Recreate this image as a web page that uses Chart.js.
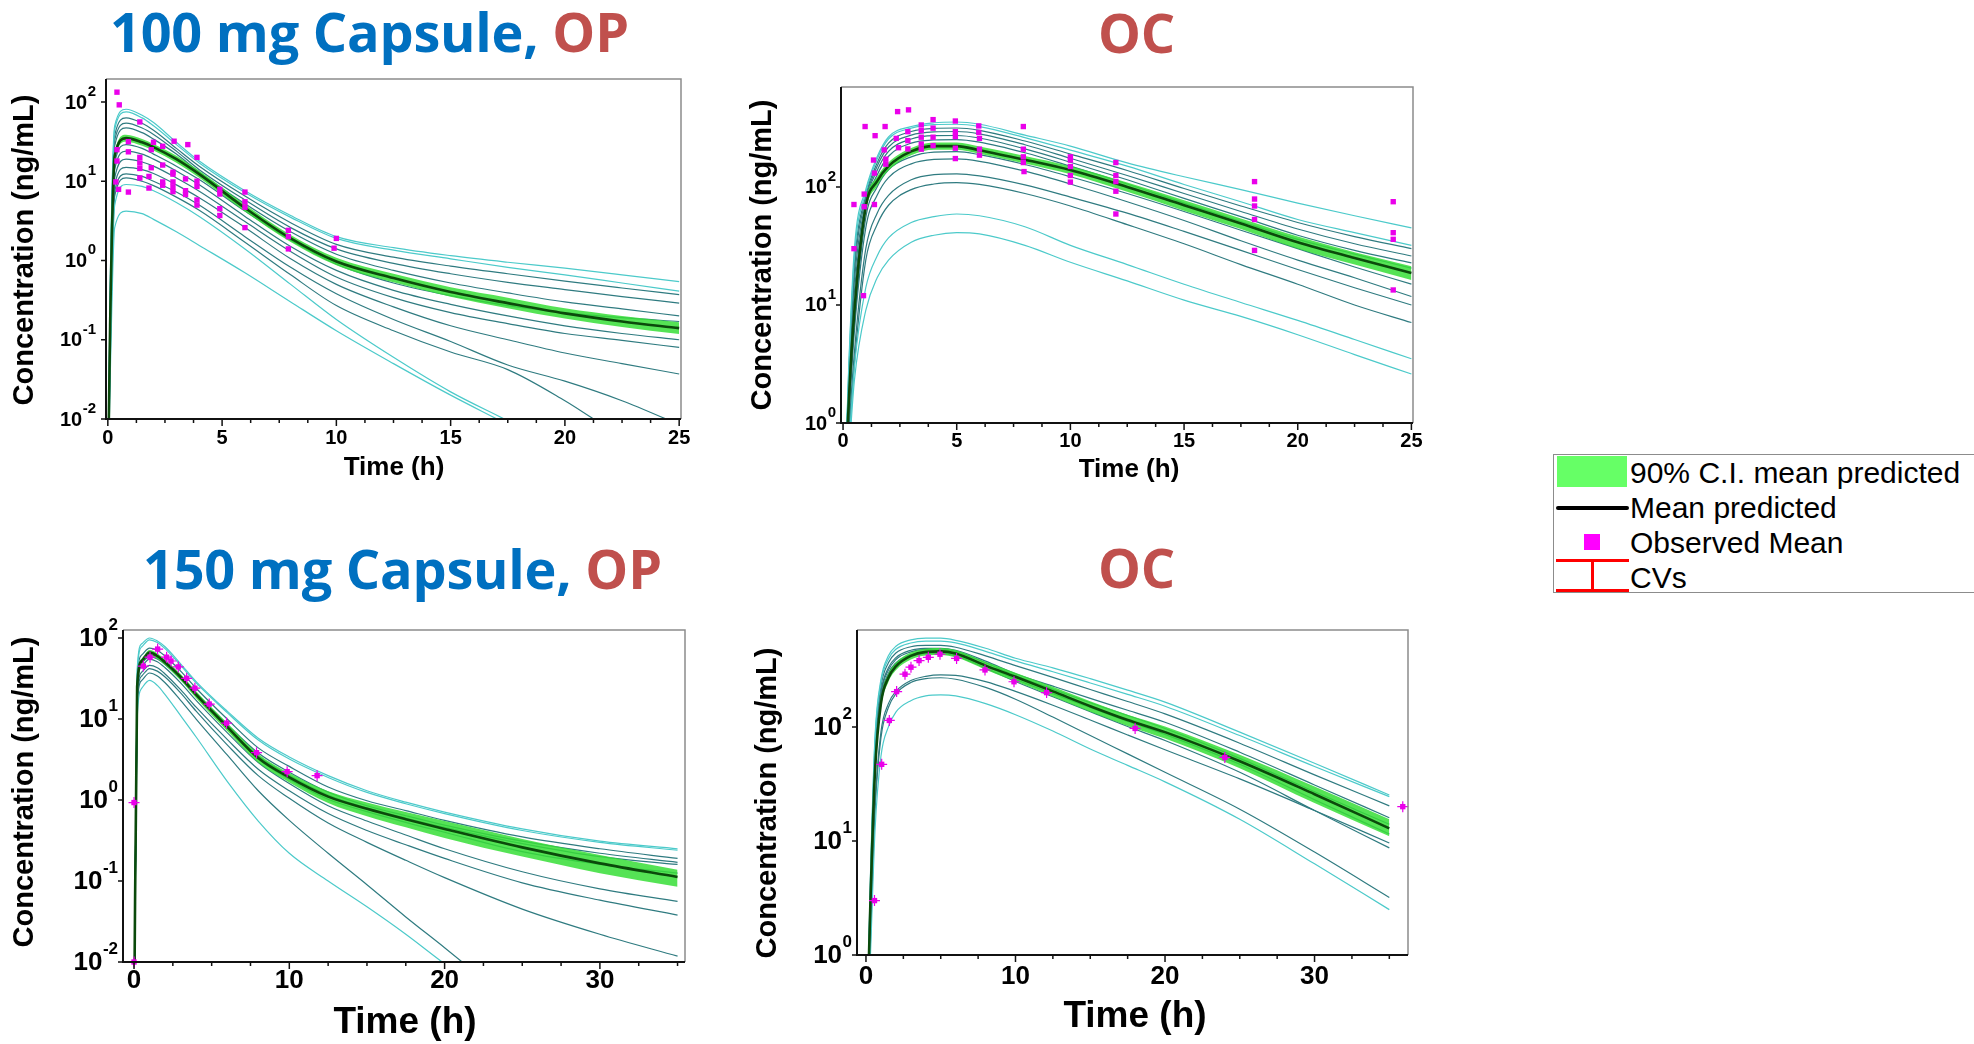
<!DOCTYPE html>
<html>
<head>
<meta charset="utf-8">
<title>Capsule PK profiles, OP vs OC</title>
<script src="https://cdn.jsdelivr.net/npm/chart.js@4.4.1/dist/chart.umd.min.js"></script>
<style>
  html, body { margin: 0; padding: 0; background: #fff; }
  body { position: relative; width: 1974px; height: 1044px; overflow: hidden; font-family: "Liberation Sans", Arial, sans-serif; }
  canvas { position: absolute; }
  .title { position: absolute; font-family: "Open Sans", sans-serif; font-weight: 700; font-size: 54px; line-height: 55px; letter-spacing: -0.2px; white-space: nowrap; color: #0070C0; }
  .title .red { color: #C0504D; }
  .legend { position: absolute; left: 1553px; top: 454px; width: 440px; height: 139px; border: 1.5px solid #8c8c8c; box-sizing: border-box; }
  .legend .txt { position: absolute; left: 76px; font-size: 30px; line-height: 30px; color: #000; white-space: nowrap; }
  .legend .sw { position: absolute; }
</style>
</head>
<body>
<div class="title" style="left:110px;top:4px">100 mg Capsule, <span class="red">OP</span></div>
<div class="title" style="left:1098px;top:5px"><span class="red">OC</span></div>
<div class="title" style="left:143px;top:541px">150 mg Capsule, <span class="red">OP</span></div>
<div class="title" style="left:1098px;top:540px"><span class="red">OC</span></div>

<canvas id="c1"></canvas>
<canvas id="c2"></canvas>
<canvas id="c3"></canvas>
<canvas id="c4"></canvas>

<div class="legend">
  <div class="sw" style="left:3px;top:1px;width:70px;height:31px;background:#66FF66"></div>
  <div class="txt" style="top:3px">90% C.I. mean predicted</div>
  <div class="sw" style="left:2px;top:51px;width:73px;height:4px;border-radius:2px;background:#000"></div>
  <div class="txt" style="top:38px">Mean predicted</div>
  <div class="sw" style="left:30px;top:79px;width:16px;height:16px;background:#FF00FF"></div>
  <div class="txt" style="top:73px">Observed Mean</div>
  <div class="sw" style="left:2px;top:104px;width:73px;height:3px;background:#FF0000"></div>
  <div class="sw" style="left:37px;top:104px;width:3px;height:32px;background:#FF0000"></div>
  <div class="sw" style="left:2px;top:134px;width:73px;height:3px;background:#FF0000"></div>
  <div class="txt" style="top:108px">CVs</div>
</div>

<script>
// ======================================================
// DATA
// ======================================================

// ---- 100 mg capsule, OP ----
const op100Time = [0, 0.1, 0.3, 0.8, 1.5, 2, 3, 4, 6, 8, 10, 12.5, 15, 17.5, 20, 22.5, 25];
const op100Mean = [0.001, 0.15, 21, 35, 31, 27, 19, 12.3, 4.6, 1.9, 0.97, 0.6, 0.40, 0.29, 0.215, 0.17, 0.14];
const op100Lo   = [0.001, 0.13, 18.5, 31.5, 28, 24.4, 17.1, 11.1, 4.15, 1.71, 0.87, 0.53, 0.35, 0.25, 0.185, 0.145, 0.118];
const op100Hi   = [0.001, 0.17, 23.5, 38.5, 34, 29.6, 21, 13.6, 5.1, 2.1, 1.08, 0.68, 0.46, 0.34, 0.25, 0.2, 0.166];
const op100Cyan = [
  [0.001, 0.4, 50, 81, 68, 55, 31, 18, 7.6, 3.7, 2.0, 1.45, 1.15, 0.95, 0.8, 0.66, 0.54],
  [0.001, 0.35, 45, 75, 63, 50, 29, 17, 7.2, 3.5, 1.9, 1.35, 1.05, 0.82, 0.66, 0.52, 0.41],
  [0.001, 0.05, 5, 9.1, 8.6, 7.6, 5.4, 3.6, 1.4, 0.5, 0.18, 0.06, 0.022, 0.0095, 0.004, 0.0017, 0.0006],
  [0.001, 0.03, 2.6, 4.2, 3.9, 3.3, 2.3, 1.55, 0.7, 0.3, 0.13, 0.05, 0.02, 0.0085, 0.0035, 0.0015, 0.0006]
];
const op100Teal = [
  [0.001, 0.3, 38, 63, 54, 44, 26, 15.5, 6.5, 3.0, 1.6, 1.1, 0.85, 0.68, 0.55, 0.45, 0.37],
  [0.001, 0.25, 33, 54, 47, 39, 24, 14, 5.8, 2.6, 1.4, 0.92, 0.68, 0.53, 0.43, 0.35, 0.29],
  [0.001, 0.2, 28, 47, 41, 34, 22, 13, 5.2, 2.3, 1.2, 0.75, 0.52, 0.39, 0.30, 0.245, 0.20],
  [0.001, 0.15, 17, 29, 26, 22, 15.5, 10.5, 4.2, 1.8, 0.9, 0.52, 0.36, 0.27, 0.22, 0.19, 0.17],
  [0.001, 0.12, 14, 24, 22, 19, 13.5, 9, 3.6, 1.5, 0.75, 0.42, 0.28, 0.2, 0.15, 0.12, 0.10],
  [0.001, 0.1, 11, 19, 17.5, 15.5, 11, 7.5, 3.1, 1.3, 0.62, 0.34, 0.22, 0.16, 0.12, 0.098, 0.08],
  [0.001, 0.08, 9, 15, 14, 12.5, 9, 6.2, 2.6, 1.05, 0.5, 0.26, 0.15, 0.1, 0.068, 0.05, 0.037],
  [0.001, 0.07, 7.5, 12.4, 11.5, 10, 7.3, 5, 2.0, 0.82, 0.38, 0.18, 0.095, 0.048, 0.03, 0.017, 0.0085],
  [0.001, 0.06, 6.5, 11, 10, 8.8, 6.3, 4.3, 1.7, 0.66, 0.27, 0.13, 0.07, 0.042, 0.017, 0.006, 0.003]
];
const op100ObsT = [0.4, 0.5, 1.4, 0.9, 0.9, 0.4, 0.4, 0.35, 0.47, 0.9,
  2.0, 1.9, 2.4, 2.9, 3.5, 3.9, 1.4, 1.4, 1.4, 1.9, 2.4, 2.85, 2.85, 1.4, 1.8, 2.4, 2.4, 2.85, 2.85, 2.85,
  1.8, 3.4, 3.4, 3.4, 3.9, 3.9, 3.9, 3.9, 4.9, 4.9, 4.9, 4.9, 6, 6, 6, 6, 7.9, 7.9, 7.9, 10, 9.9];
const op100ObsC = [133, 92, 56, 31.6, 23.5, 25, 18, 9.8, 7.9, 7.3,
  31, 25, 27.6, 32, 29, 20, 20, 17, 14.5, 14.8, 16, 13, 12.3, 11, 11.5, 9.8, 8.9, 9.8, 8.5, 7.4,
  8.2, 10.7, 7.6, 6.8, 10, 8.6, 5.8, 5.0, 7.9, 6.9, 4.5, 3.7, 7.3, 5.5, 4.7, 2.6, 2.4, 2.0, 1.4, 1.9, 1.43];

// ---- 100 mg capsule, OC ----
const oc100Time = [0, 0.25, 0.5, 1, 1.5, 2, 3, 4, 5, 6, 8, 10, 12.5, 15, 17.5, 20, 22.5, 25];
const oc100Mean = [0.1, 1.5, 9, 68, 112, 150, 200, 222, 222, 205, 170, 139, 100, 70, 49, 34, 25, 18.7];
const oc100Lo   = [0.1, 1.3, 7.8, 61, 102, 138, 186, 207, 207, 191, 158, 128, 91, 63, 44, 30, 22, 16.3];
const oc100Hi   = [0.1, 1.7, 10.3, 75, 122, 162, 214, 238, 238, 220, 183, 150, 109, 77, 54, 38, 28, 21.3];
const oc100Cyan = [
  [0.1, 3, 30, 95, 180, 265, 325, 350, 355, 340, 275, 222, 160, 122, 95, 73, 57, 45],
  [0.1, 2.8, 26, 90, 172, 255, 315, 338, 340, 325, 262, 205, 150, 105, 75, 53, 41, 32],
  [0.1, 0.6, 3, 14, 26, 37, 50, 56, 59, 57, 46, 32, 22, 15, 10.5, 7.4, 5.1, 3.5],
  [0.1, 0.5, 2.3, 9, 17, 24, 34, 39, 41, 40, 32, 23, 16, 11, 8, 5.6, 3.8, 2.6]
];
const oc100Teal = [
  [0.1, 2.5, 22, 85, 160, 235, 295, 314, 316, 302, 245, 190, 138, 97, 69, 50, 38, 30],
  [0.1, 2.3, 19, 80, 150, 218, 275, 293, 295, 282, 228, 175, 125, 88, 62, 44, 33, 26],
  [0.1, 2.1, 16, 75, 138, 200, 255, 272, 273, 260, 210, 162, 115, 80, 56, 39, 29, 22.7],
  [0.1, 1.9, 13, 70, 126, 182, 235, 250, 252, 240, 195, 150, 106, 73, 51, 36, 27, 20.5],
  [0.1, 1.2, 7, 55, 100, 140, 180, 197, 199, 188, 155, 122, 88, 62, 43, 30, 21, 15],
  [0.1, 1.0, 6, 45, 85, 120, 157, 171, 173, 165, 136, 106, 75, 52, 35, 24, 17, 11.8],
  [0.1, 0.8, 4, 30, 60, 85, 115, 127, 129, 124, 104, 82, 60, 42, 29, 20, 14, 10],
  [0.1, 0.7, 3.2, 24, 48, 70, 95, 106, 109, 105, 88, 69, 48, 33, 22, 15, 10, 7.1]
];
const oc100ObsT = [0.48, 0.48, 0.97, 0.93, 0.93, 0.9, 1.41, 1.34, 1.38, 1.38, 1.85, 1.81, 1.88, 1.88,
  2.4, 2.34, 2.44, 2.88, 2.85, 2.85, 2.85, 3.44, 3.44, 3.44, 3.44, 3.44, 3.96, 3.96, 3.96, 3.96,
  4.94, 4.94, 4.94, 4.94, 4.94, 5.97, 5.97, 6, 6, 6, 7.93, 7.93, 7.93, 7.93, 7.96,
  10, 10, 10, 10, 10, 12, 12, 12, 12, 12, 18.1, 18.1, 18.1, 18.1, 18.1, 24.2, 24.2, 24.2, 24.2];
const oc100ObsC = [71, 30, 325, 68, 87, 12, 272, 169, 131, 71, 325, 206, 172, 156,
  435, 258, 215, 450, 294, 247, 210, 335, 300, 264, 231, 209, 372, 315, 264, 224,
  362, 294, 267, 213, 174, 329, 290, 258, 209, 186, 325, 209, 180, 161, 135,
  180, 169, 149, 125, 110, 161, 125, 111, 92, 59, 111, 79, 69, 53, 29, 75, 41, 36, 13.4];

// ---- 150 mg capsule, OP ----
const op150Time = [0, 0.2, 0.5, 1, 1.5, 2, 3, 4, 6, 8, 10, 12.5, 15, 17.5, 20, 25, 30, 35];
const op150Mean = [0.001, 25, 52, 66, 60, 50, 33, 20, 8.0, 3.3, 1.9, 1.1, 0.78, 0.58, 0.44, 0.26, 0.165, 0.112];
const op150Lo   = [0.001, 23, 48, 61, 55, 46, 30, 18, 7.1, 2.9, 1.65, 0.92, 0.63, 0.46, 0.34, 0.2, 0.125, 0.085];
const op150Hi   = [0.001, 27, 56, 71, 65, 54, 36, 22, 8.9, 3.7, 2.15, 1.28, 0.93, 0.71, 0.55, 0.33, 0.21, 0.138];
const op150Cyan = [
  [0.001, 40, 85, 100, 92, 78, 48, 29, 12.5, 5.8, 3.4, 2.0, 1.3, 0.94, 0.71, 0.44, 0.31, 0.25],
  [0.001, 35, 78, 95, 88, 74, 46, 28, 12, 5.5, 3.2, 1.9, 1.24, 0.9, 0.68, 0.42, 0.3, 0.24],
  [0.001, 10, 24, 30, 26, 20, 11, 6, 1.7, 0.55, 0.22, 0.1, 0.048, 0.022, 0.0095, 0.002, 0.0004, 0.00008]
];
const op150Teal = [
  [0.001, 30, 62, 75, 70, 60, 39, 24, 10, 4.4, 2.6, 1.45, 0.98, 0.74, 0.56, 0.35, 0.25, 0.19],
  [0.001, 26, 54, 65, 61, 52, 34, 21, 8.6, 3.8, 2.2, 1.25, 0.85, 0.64, 0.49, 0.31, 0.22, 0.17],
  [0.001, 24, 49, 59, 55, 47, 31, 19.5, 8.0, 3.5, 2.0, 1.15, 0.8, 0.6, 0.46, 0.29, 0.2, 0.16],
  [0.001, 24, 50, 62, 58, 49, 32, 19.5, 7.8, 3.2, 1.8, 1.02, 0.72, 0.53, 0.4, 0.23, 0.16, 0.125],
  [0.001, 22, 45, 55, 51, 43, 28, 17, 6.8, 2.9, 1.6, 0.85, 0.55, 0.37, 0.25, 0.13, 0.08, 0.056],
  [0.001, 18, 38, 46, 43, 36, 23, 14, 5.6, 2.4, 1.3, 0.68, 0.42, 0.28, 0.19, 0.095, 0.058, 0.038],
  [0.001, 16, 34, 42, 39, 33, 21, 12.5, 4.8, 2.0, 1.05, 0.52, 0.3, 0.18, 0.11, 0.045, 0.022, 0.0118],
  [0.001, 14, 30, 37, 34, 28, 17, 10, 3.6, 1.3, 0.56, 0.22, 0.09, 0.036, 0.015, 0.0025, 0.0004, 0.00007]
];
const op150ObsT = [0, 0, 0.6, 1.03, 1.52, 2.1, 2.38, 2.85, 3.39, 3.92, 4.84, 5.96, 7.89, 9.86, 11.79];
const op150ObsC = [0.93, 0.01, 45, 58, 73, 58, 52, 44, 31.8, 24, 15.3, 8.9, 3.84, 2.24, 2.0];

// ---- 150 mg capsule, OC ----
const oc150Time = [0, 0.3, 0.6, 1, 1.5, 2, 3, 4, 5, 6, 8, 10, 12.5, 15, 17.5, 20, 25, 30, 35];
const oc150Mean = [0.1, 3, 40, 160, 270, 340, 420, 455, 460, 440, 345, 275, 205, 152, 115, 90, 50, 25.7, 12.9];
const oc150Lo   = [0.1, 2.6, 35, 145, 248, 314, 390, 424, 428, 408, 318, 251, 185, 136, 102, 79, 43.5, 21.5, 11];
const oc150Hi   = [0.1, 3.4, 45, 175, 292, 366, 450, 486, 492, 472, 372, 299, 225, 168, 128, 101, 57, 30, 15.5];
const oc150Cyan = [
  [0.1, 5, 80, 260, 420, 510, 580, 600, 600, 575, 490, 400, 330, 265, 210, 165, 90, 48, 25.3],
  [0.1, 4.5, 75, 245, 395, 480, 545, 565, 565, 545, 460, 380, 305, 243, 193, 152, 84, 45, 24.5],
  [0.1, 1, 12, 55, 100, 135, 170, 187, 191, 187, 160, 128, 92, 64, 46, 33, 15.5, 6.3, 2.5]
];
const oc150Teal = [
  [0.1, 4, 65, 225, 365, 445, 505, 520, 520, 500, 420, 345, 272, 213, 167, 130, 72, 38, 20.3],
  [0.1, 3.5, 55, 200, 330, 405, 470, 488, 490, 470, 378, 293, 228, 178, 140, 110, 60, 31, 16],
  [0.1, 3.2, 50, 190, 315, 390, 455, 478, 480, 460, 365, 282, 214, 163, 126, 97, 53, 27, 14],
  [0.1, 3, 45, 175, 295, 365, 430, 452, 455, 435, 342, 262, 196, 148, 112, 86, 47, 23, 11.5],
  [0.1, 2.8, 42, 170, 285, 355, 420, 440, 440, 420, 328, 250, 184, 136, 101, 76, 40, 18.5, 8.7],
  [0.1, 1.5, 20, 90, 160, 205, 255, 278, 286, 283, 250, 205, 155, 115, 85, 63, 35, 18.5, 9.6],
  [0.1, 1.3, 18, 80, 148, 195, 245, 265, 270, 262, 222, 175, 122, 84, 58, 40, 19, 8, 3.2]
];
const oc150ObsT = [0.57, 1.05, 1.56, 2.05, 2.61, 3.01, 3.55, 4.17, 4.95, 6.06, 7.96, 9.9, 12.08, 18.0, 24.0, 35.9];
const oc150ObsC = [3.0, 47, 114, 204, 290, 334, 382, 408, 434, 399, 316, 249, 200, 97, 54, 20];

// axis ticks
const ticks25 = [0, 5, 10, 15, 20, 25];
const ticks35 = [0, 10, 20, 30];
const decadesOP = [-2, -1, 0, 1, 2];
const decadesOC = [0, 1, 2];

// ======================================================
// STYLE
// ======================================================
const CYAN = '#4ccaca';
const TEAL = '#2f7b80';
const MEAN = '#0b4a0b';
const BAND = 'rgba(55,222,55,0.85)';
const OBS = '#ea00ea';
const FONT = '"Liberation Sans", Arial, sans-serif';

function series(ts, vs) {
  return ts.map((t, i) => ({ x: t, y: vs[i] }));
}

function trial(ts, vs, color) {
  return { data: series(ts, vs), borderColor: color, borderWidth: 1.2, pointRadius: 0, cubicInterpolationMode: 'monotone', fill: false, order: 3 };
}

// frame, tick marks, tick labels and axis titles
const decor = {
  id: 'decor',
  afterDraw(chart, args, o) {
    const { ctx, chartArea: a } = chart;
    const xs = chart.scales.x, ys = chart.scales.y;
    ctx.save();
    ctx.lineWidth = 1.5; ctx.strokeStyle = '#8c8c8c';
    ctx.beginPath(); ctx.moveTo(a.left, a.top); ctx.lineTo(a.right, a.top); ctx.lineTo(a.right, a.bottom); ctx.stroke();
    ctx.lineWidth = 2; ctx.strokeStyle = '#111';
    ctx.beginPath(); ctx.moveTo(a.left, a.top); ctx.lineTo(a.left, a.bottom); ctx.lineTo(a.right, a.bottom); ctx.stroke();

    ctx.lineWidth = 1.5;
    ctx.beginPath();
    for (let i = 0; i * o.xMinor <= xs.max; i++) {
      const v = i * o.xMinor, px = xs.getPixelForValue(v);
      ctx.moveTo(px, a.bottom); ctx.lineTo(px, a.bottom + (o.xTicks.includes(v) ? 7 : 4));
    }
    o.yDec.forEach(d => {
      const py = ys.getPixelForValue(Math.pow(10, d));
      ctx.moveTo(a.left, py); ctx.lineTo(a.left - 5, py);
    });
    ctx.stroke();

    ctx.fillStyle = '#000';
    ctx.font = `bold ${o.tick}px ${FONT}`;
    ctx.textAlign = 'center'; ctx.textBaseline = 'middle';
    o.xTicks.forEach(v => ctx.fillText(String(v), xs.getPixelForValue(v), o.xLabY));

    o.yDec.forEach(d => {
      const py = ys.getPixelForValue(Math.pow(10, d));
      const right = a.left - o.yGap;
      const exp = String(d);
      ctx.font = `bold ${o.sup}px ${FONT}`;
      ctx.textAlign = 'right'; ctx.textBaseline = 'alphabetic';
      ctx.fillText(exp, right, py - o.tick * 0.3);
      const ew = ctx.measureText(exp).width;
      ctx.font = `bold ${o.tick}px ${FONT}`;
      ctx.textBaseline = 'middle';
      ctx.fillText('10', right - ew - 0.5, py + 1);
    });

    ctx.textAlign = 'center'; ctx.textBaseline = 'middle';
    ctx.font = `bold ${o.xTitle[2]}px ${FONT}`;
    ctx.fillText('Time (h)', o.xTitle[0], o.xTitle[1]);
    ctx.translate(o.yTitle[0], o.yTitle[1]);
    ctx.rotate(-Math.PI / 2);
    ctx.font = `bold ${o.yTitle[2]}px ${FONT}`;
    ctx.fillText('Concentration (ng/mL)', 0, 0);
    ctx.restore();
  }
};

function makePanel(p) {
  const cv = document.getElementById(p.id);
  const [bx, by, bw, bh] = p.box;
  const [l, t, r, b] = p.plot;
  cv.width = bw; cv.height = bh;
  Object.assign(cv.style, { left: bx + 'px', top: by + 'px', width: bw + 'px', height: bh + 'px' });

  const datasets = [];
  p.cyan.forEach(v => datasets.push(trial(p.time, v, CYAN)));
  p.teal.forEach(v => datasets.push(trial(p.time, v, TEAL)));
  datasets.push({ data: series(p.time, p.lo), borderColor: 'rgba(0,0,0,0)', borderWidth: 1, pointRadius: 0, fill: false, cubicInterpolationMode: 'monotone', order: 2 });
  datasets.push({ data: series(p.time, p.hi), borderColor: 'rgba(0,0,0,0)', borderWidth: 1, pointRadius: 0, fill: '-1', backgroundColor: BAND, cubicInterpolationMode: 'monotone', order: 2 });
  datasets.push({ data: series(p.time, p.mean), borderColor: MEAN, borderWidth: 2.6, pointRadius: 0, fill: false, cubicInterpolationMode: 'monotone', order: 1 });
  if (p.cv) {
    datasets.push({ data: series(p.obsT, p.obsC), showLine: false, pointStyle: 'cross', pointRadius: 5.5, borderColor: OBS, borderWidth: 1.2, clip: false, order: 0 });
  }
  datasets.push({ data: series(p.obsT, p.obsC), showLine: false, pointStyle: 'rect', pointRadius: 3.8, backgroundColor: OBS, borderColor: OBS, borderWidth: 0, clip: false, order: 0 });

  new Chart(cv, {
    type: 'line',
    data: { datasets },
    options: {
      responsive: false, animation: false, events: [],
      layout: { padding: { left: l - bx, top: t - by, right: bx + bw - r, bottom: by + bh - b } },
      scales: {
        x: { type: 'linear', display: false, min: p.xRange[0], max: p.xRange[1] },
        y: { type: 'logarithmic', display: false, min: p.yRange[0], max: p.yRange[1] }
      },
      plugins: {
        legend: { display: false },
        tooltip: { enabled: false },
        decor: {
          xTicks: p.xTicks, xMinor: p.xMinor, yDec: p.yDec,
          tick: p.tick, sup: p.sup, yGap: p.yGap, xLabY: p.xLabY - by,
          xTitle: [p.xTitle[0] - bx, p.xTitle[1] - by, p.xTitle[2]],
          yTitle: [p.yTitle[0] - bx, p.yTitle[1] - by, 29]
        }
      }
    },
    plugins: [decor]
  });
}

// ======================================================
// PANELS
// ======================================================
makePanel({
  id: 'c1', box: [0, 60, 720, 430], plot: [106, 79, 681, 419],
  xRange: [-0.08, 25.08], yRange: [0.01, 195],
  time: op100Time, mean: op100Mean, lo: op100Lo, hi: op100Hi, cyan: op100Cyan, teal: op100Teal,
  obsT: op100ObsT, obsC: op100ObsC,
  xTicks: ticks25, xMinor: 1.25, yDec: decadesOP, tick: 20, sup: 15, yGap: 10, xLabY: 438,
  xTitle: [394, 468, 26], yTitle: [25, 250]
});
makePanel({
  id: 'c2', box: [740, 60, 700, 430], plot: [841, 87, 1413, 423],
  xRange: [-0.09, 25.07], yRange: [1, 703],
  time: oc100Time, mean: oc100Mean, lo: oc100Lo, hi: oc100Hi, cyan: oc100Cyan, teal: oc100Teal,
  obsT: oc100ObsT, obsC: oc100ObsC,
  xTicks: ticks25, xMinor: 1.25, yDec: decadesOC, tick: 20, sup: 15, yGap: 5, xLabY: 441,
  xTitle: [1129, 470, 26], yTitle: [763, 255]
});
makePanel({
  id: 'c3', box: [0, 600, 720, 444], plot: [123, 630, 685, 962],
  xRange: [-0.71, 35.48], yRange: [0.01, 125.6],
  time: op150Time, mean: op150Mean, lo: op150Lo, hi: op150Hi, cyan: op150Cyan, teal: op150Teal,
  obsT: op150ObsT, obsC: op150ObsC, cv: true,
  xTicks: ticks35, xMinor: 2.5, yDec: decadesOP, tick: 26, sup: 17, yGap: 5, xLabY: 981,
  xTitle: [405, 1023, 37], yTitle: [25, 792]
});
makePanel({
  id: 'c4', box: [740, 600, 700, 444], plot: [857, 630, 1408, 955],
  xRange: [-0.6, 36.25], yRange: [1, 708],
  time: oc150Time, mean: oc150Mean, lo: oc150Lo, hi: oc150Hi, cyan: oc150Cyan, teal: oc150Teal,
  obsT: oc150ObsT, obsC: oc150ObsC, cv: true,
  xTicks: ticks35, xMinor: 2.5, yDec: decadesOC, tick: 26, sup: 17, yGap: 5, xLabY: 977,
  xTitle: [1135, 1017, 37], yTitle: [768, 803]
});
</script>
</body>
</html>
